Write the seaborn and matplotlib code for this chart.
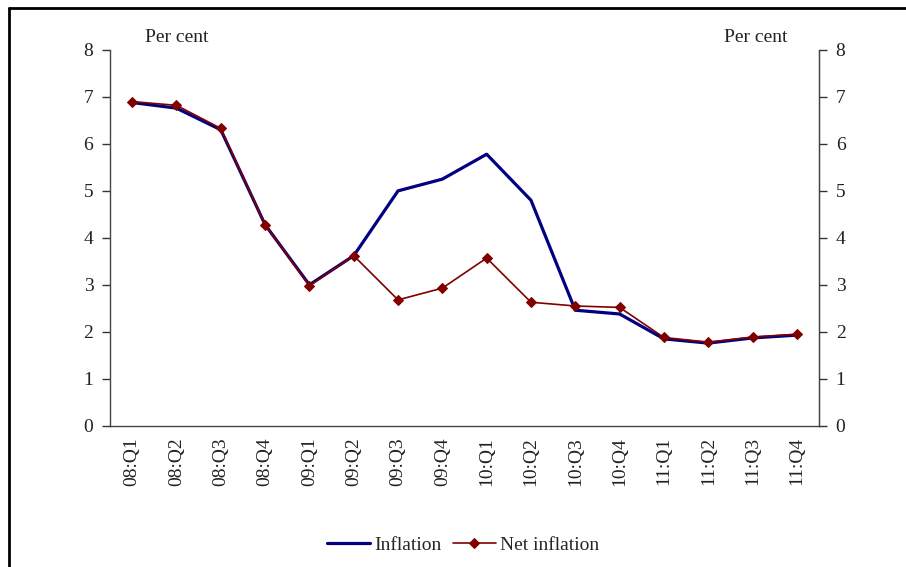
import matplotlib
matplotlib.use("Agg")
import matplotlib.pyplot as plt
import seaborn as sns
import pandas as pd
import numpy as np
from matplotlib.lines import Line2D

quarters = ["08:Q1", "08:Q2", "08:Q3", "08:Q4", "09:Q1", "09:Q2", "09:Q3", "09:Q4",
            "10:Q1", "10:Q2", "10:Q3", "10:Q4", "11:Q1", "11:Q2", "11:Q3", "11:Q4"]
inflation = [6.88, 6.76, 6.30, 4.28, 3.00, 3.62, 5.00, 5.25, 5.78, 4.80, 2.46, 2.38, 1.85, 1.76, 1.87, 1.93]
net_inflation = [6.90, 6.82, 6.33, 4.28, 2.98, 3.62, 2.68, 2.93, 3.57, 2.63, 2.55, 2.52, 1.88, 1.78, 1.89, 1.95]

sns.set_style("white")
plt.rcParams["font.family"] = ["Liberation Serif", "DejaVu Serif"]

df = pd.DataFrame({"pos": np.arange(len(quarters)), "Inflation": inflation, "Net inflation": net_inflation})

fig = plt.figure(figsize=(9.06, 5.67), dpi=100)
ax = fig.add_axes([0.1214, 0.249, 0.7826, 0.663])

sns.lineplot(data=df, x="pos", y="Inflation", ax=ax, color="#000080", linewidth=2.3, label="Inflation")
sns.lineplot(data=df, x="pos", y="Net inflation", ax=ax, color="#800000", linewidth=1.2,
             marker="D", markersize=5.5, markeredgecolor="#800000", label="Net inflation")

ax.set_xlim(-0.5, len(quarters) - 0.5)
ax.set_ylim(0, 8)
ax.set_yticks(range(0, 9))
ax.set_xticks(np.arange(-0.5, len(quarters), 1.0))
ax.set_xticklabels([])
ax.set_xticks(np.arange(len(quarters)), minor=True)
ax.set_xticklabels(quarters, minor=True, rotation=90, fontsize=14, color="#222222")
ax.tick_params(axis="x", which="major", length=6, width=1, color="#333333", direction="out")
ax.tick_params(axis="x", which="minor", length=0, pad=8)
ax.tick_params(axis="y", length=6, width=1, color="#333333", direction="out", labelsize=14, labelcolor="#222222", pad=6)
ax.set_xlabel("")
ax.set_ylabel("")
ax.spines["top"].set_visible(False)
for s in ["left", "bottom", "right"]:
    ax.spines[s].set_visible(True)
    ax.spines[s].set_color("#444444")
    ax.spines[s].set_linewidth(1)

ax2 = ax.twinx()
ax2.set_ylim(0, 8)
ax2.set_yticks(range(0, 9))
ax2.tick_params(axis="y", length=6, width=1, color="#333333", direction="out", labelsize=14, labelcolor="#222222", pad=6)
for s in ["top", "left", "bottom"]:
    ax2.spines[s].set_visible(False)
ax2.spines["right"].set_color("#444444")

fig.text(177 / 906, 1 - 38 / 567, "Per cent", ha="center", va="center", fontsize=14, color="#222222")
fig.text(756 / 906, 1 - 38 / 567, "Per cent", ha="center", va="center", fontsize=14, color="#222222")

leg = ax.legend(loc="center", bbox_to_anchor=(463 / 906, 1 - 545 / 567), bbox_transform=fig.transFigure,
                ncol=2, frameon=False, fontsize=14, handlelength=2.2, handletextpad=0.2, columnspacing=0.6)

# figure frame: left and top edges only
fx = 9 / 906
fy = 1 - 7.5 / 567
fig.add_artist(Line2D([fx, fx], [0, fy], transform=fig.transFigure, color="black", linewidth=2))
fig.add_artist(Line2D([fx, 1], [fy, fy], transform=fig.transFigure, color="black", linewidth=2))

fig.savefig("out.png", dpi=100)
